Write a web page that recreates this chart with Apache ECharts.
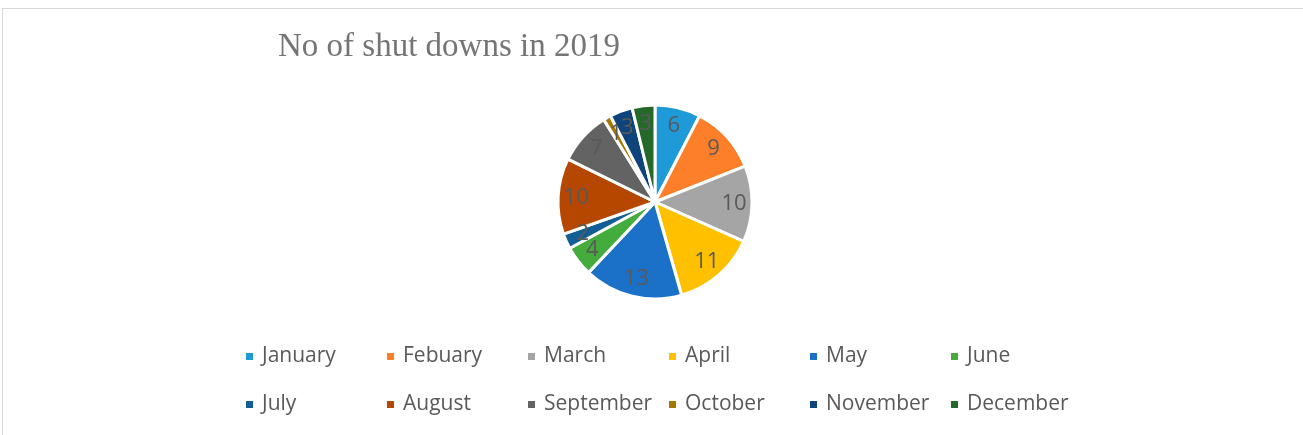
<!DOCTYPE html>
<html>
<head>
<meta charset="utf-8">
<script src="https://cdn.jsdelivr.net/npm/echarts@6/dist/echarts.min.js"></script>
<style>
  html, body { margin: 0; padding: 0; background: #fff; }
  #frame { position: absolute; left: 2px; top: 8px; width: 1400px; height: 500px;
           border-left: 1px solid #d9d9d9; border-top: 1px solid #d9d9d9; }
  #chart { position: absolute; left: 0; top: 0; width: 1303px; height: 435px; }
</style>
</head>
<body>
<div id="frame"></div>
<div id="chart"></div>
<script>
const months = ['January', 'Febuary', 'March', 'April', 'May', 'June',
                'July', 'August', 'September', 'October', 'November', 'December'];
const shutdowns = [6, 9, 10, 11, 13, 4, 2, 10, 7, 1, 3, 3];
const sliceColors = ['#1f9ad8', '#fd7f2a', '#a5a5a5', '#ffc000', '#1b71c8', '#44ac3c',
                     '#125e95', '#b64700', '#636363', '#a57800', '#0e4479', '#25692a'];

const pieData = months.map((m, i) => ({ name: m, value: shutdowns[i] }));
const font = '"Open Sans", "Noto Sans", sans-serif';
const center = [655, 202];

// legend laid out as a 6-column grid, one legend component per entry
const legends = months.map((m, i) => ({
  data: [m],
  left: 244 + (i % 6) * 141,
  top: i < 6 ? 346 : 394,
  padding: 0,
  icon: 'rect',
  itemWidth: 9,
  itemHeight: 9,
  selectedMode: false,
  textStyle: { color: '#595959', fontSize: 21, fontFamily: font, padding: [0, 0, 0, 3] }
}));

const chart = echarts.init(document.getElementById('chart'));
chart.setOption({
  animation: false,
  color: sliceColors,
  title: {
    text: 'No of shut downs in 2019',
    left: 273,
    top: 26,
    textStyle: { fontFamily: '"Liberation Serif", "Times New Roman", serif', fontWeight: 'normal',
                 fontSize: 33, color: '#757575' }
  },
  legend: legends,
  series: [
    {
      type: 'pie',
      center: center,
      radius: [0, 97],
      startAngle: 90,
      clockwise: true,
      avoidLabelOverlap: false,
      data: pieData,
      label: { show: false },
      labelLine: { show: false },
      itemStyle: { borderColor: '#ffffff', borderWidth: 3 }
    },
    {
      // value labels sit at ~3/4 of the radius, drawn from an invisible ring
      type: 'pie',
      center: center,
      radius: [0, 152],
      startAngle: 90,
      clockwise: true,
      silent: true,
      avoidLabelOverlap: false,
      data: pieData,
      itemStyle: { color: 'rgba(0,0,0,0)' },
      label: { show: true, position: 'inside', formatter: '{c}', color: '#595959',
               fontSize: 22, fontFamily: font },
      labelLayout: { hideOverlap: false },
      labelLine: { show: false }
    }
  ]
});
</script>
</body>
</html>
